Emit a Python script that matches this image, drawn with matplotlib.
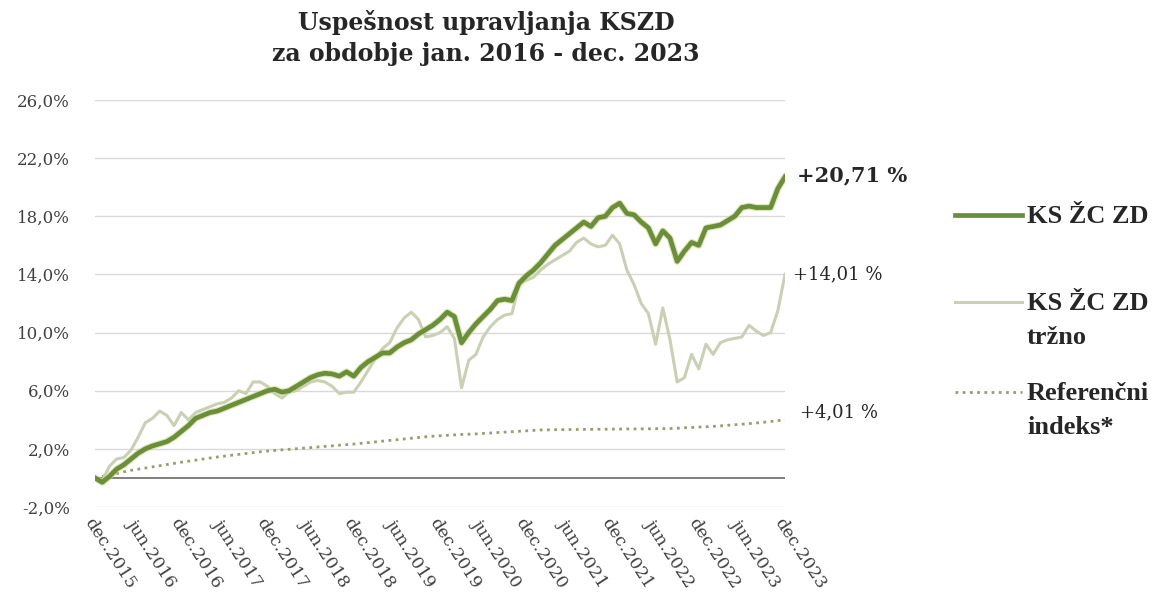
import matplotlib
matplotlib.use("Agg")
import matplotlib.pyplot as plt
from matplotlib.lines import Line2D
import numpy as np

# ---- data (monthly, dec.2015 .. dec.2023) ----
ks_zc_zd = [0.0, -0.3, 0.1, 0.6, 0.9, 1.3, 1.7, 2.0, 2.2, 2.35, 2.5, 2.8, 3.2, 3.6, 4.1, 4.3,
            4.5, 4.6, 4.8, 5.0, 5.2, 5.4, 5.6, 5.8, 6.0, 6.1, 5.9, 6.0, 6.3, 6.6, 6.9, 7.1,
            7.2, 7.15, 7.0, 7.3, 7.0, 7.6, 8.0, 8.3, 8.6, 8.6, 9.0, 9.3, 9.5, 9.9, 10.2, 10.5,
            10.9, 11.4, 11.1, 9.3, 10.0, 10.6, 11.1, 11.6, 12.2, 12.3, 12.2, 13.4, 13.9, 14.3,
            14.8, 15.4, 16.0, 16.4, 16.8, 17.2, 17.6, 17.3, 17.9, 18.0, 18.6, 18.9, 18.2, 18.1,
            17.6, 17.2, 16.1, 17.0, 16.5, 14.9, 15.6, 16.2, 16.0, 17.2, 17.3, 17.4, 17.7, 18.0,
            18.6, 18.7, 18.6, 18.6, 18.6, 19.9, 20.71]
ks_zc_zd_trzno = [0.0, -0.2, 0.8, 1.3, 1.4, 1.9, 2.8, 3.8, 4.1, 4.6, 4.3, 3.6, 4.5, 4.0, 4.5, 4.7,
                  4.9, 5.1, 5.2, 5.5, 6.0, 5.8, 6.6, 6.6, 6.3, 5.8, 5.5, 5.9, 6.0, 6.3, 6.6, 6.7,
                  6.6, 6.3, 5.8, 5.9, 5.9, 6.6, 7.4, 8.2, 8.9, 9.3, 10.3, 11.0, 11.4, 10.9, 9.7, 9.8,
                  10.0, 10.4, 9.6, 6.2, 8.1, 8.5, 9.7, 10.4, 10.9, 11.2, 11.3, 13.3, 13.6, 13.8,
                  14.3, 14.7, 15.0, 15.3, 15.6, 16.2, 16.5, 16.1, 15.9, 16.0, 16.7, 16.1, 14.3, 13.3,
                  12.0, 11.3, 9.2, 11.7, 9.5, 6.6, 6.9, 8.5, 7.5, 9.2, 8.5, 9.3, 9.5, 9.6,
                  9.7, 10.5, 10.1, 9.8, 10.0, 11.5, 14.01]
referencni_indeks = [0.0, 0.1, 0.2, 0.3, 0.42, 0.52, 0.6, 0.68, 0.76, 0.84, 0.92, 1.0, 1.08, 1.15,
                     1.22, 1.3, 1.37, 1.44, 1.5, 1.56, 1.62, 1.68, 1.74, 1.8, 1.85, 1.89, 1.93, 1.97,
                     2.01, 2.05, 2.09, 2.13, 2.17, 2.21, 2.25, 2.29, 2.33, 2.38, 2.43, 2.48, 2.53, 2.58,
                     2.63, 2.68, 2.73, 2.78, 2.83, 2.87, 2.9, 2.93, 2.96, 2.99, 3.01, 3.03, 3.06, 3.09,
                     3.12, 3.15, 3.18, 3.21, 3.24, 3.27, 3.3, 3.31, 3.32, 3.32, 3.33, 3.33, 3.34, 3.34,
                     3.35, 3.35, 3.36, 3.36, 3.37, 3.37, 3.38, 3.38, 3.39, 3.39, 3.4, 3.42, 3.45, 3.47,
                     3.5, 3.52, 3.55, 3.58, 3.62, 3.66, 3.7, 3.74, 3.78, 3.83, 3.88, 3.94, 4.01]
tick_labels = ["dec.2015", "jun.2016", "dec.2016", "jun.2017", "dec.2017", "jun.2018",
               "dec.2018", "jun.2019", "dec.2019", "jun.2020", "dec.2020", "jun.2021",
               "dec.2021", "jun.2022", "dec.2022", "jun.2023", "dec.2023"]
y_ticks = [-2, 2, 6, 10, 14, 18, 22, 26]
end_labels = ["+20,71 %", "+14,01 %", "+4,01 %"]
legend_labels = ["KS ŽC ZD", "KS ŽC ZD\ntržno", "Referenčni\nindeks*"]
title = "Uspešnost upravljanja KSZD\nza obdobje jan. 2016 - dec. 2023"

C_MAIN = "#6b8e3a"
C_MKT = "#c9d0b4"
C_REF = "#9c9c6e"
FONT = "DejaVu Serif"
LEG_FONT = "Liberation Serif"

plt.rcParams["font.family"] = [FONT]

W, H = 1159, 600
fig = plt.figure(figsize=(W / 100, H / 100), dpi=100)
ax = fig.add_axes([95 / W, 1 - 507 / H, (785 - 95) / W, (507 - 100) / H])

x = np.arange(len(ks_zc_zd))
ax.plot(x, referencni_indeks, color=C_REF, lw=2.0, ls=(0, (1, 1.6)), zorder=3)
ax.plot(x, ks_zc_zd_trzno, color=C_MKT, lw=2.2, zorder=4)
ax.plot(x, ks_zc_zd, color="#c8d88a", lw=5.0, zorder=5, alpha=0.6)
ax.plot(x, ks_zc_zd, color=C_MAIN, lw=3.4, zorder=6)

ax.set_xlim(0, len(x) - 1)
ax.set_ylim(-2, 26)
ax.set_yticks(y_ticks)
ax.set_yticklabels([f"{v:.1f}%".replace(".", ",") for v in y_ticks],
                   fontsize=12, color="#404040")
ax.grid(axis="y", color="#d9d9d9", lw=1.0, zorder=0)
ax.axhline(0, color="#7f7f7f", lw=1.4, zorder=2)
for s in ax.spines.values():
    s.set_visible(False)
ax.tick_params(length=0, pad=18)
ax.tick_params(axis="x", pad=6)

ax.set_xticks(x[::6])
ax.set_xticklabels(tick_labels, rotation=-57, ha="left", va="top",
                   rotation_mode="anchor", fontsize=12.5, color="#404040")

# end labels
fig.text(797 / W, 1 - 175 / H, end_labels[0], fontsize=15, fontweight="bold",
         color="#262626", va="center", ha="left")
fig.text(793 / W, 1 - 274 / H, end_labels[1], fontsize=13,
         color="#262626", va="center", ha="left")
fig.text(800 / W, 1 - 412 / H, end_labels[2], fontsize=13,
         color="#262626", va="center", ha="left")

# legend
leg_items = [(215, dict(color=C_MAIN, lw=3.4, ls="-")),
             (302, dict(color=C_MKT, lw=2.2, ls="-")),
             (392, dict(color=C_REF, lw=2.0, ls=(0, (1, 1.6))))]
for (yy, style), lab in zip(leg_items, legend_labels):
    fig.add_artist(Line2D([955 / W, 1022 / W], [1 - yy / H, 1 - yy / H],
                          transform=fig.transFigure, **style))
    for k, line in enumerate(lab.split("\n")):
        fig.text(1027 / W, 1 - (yy + 8 + 34 * k) / H, line, fontsize=19,
                 fontweight="bold", family=LEG_FONT,
                 color="#262626", va="baseline", ha="left")

fig.text(486 / W, 1 - 10 / H, title, fontsize=17, fontweight="bold",
         color="#262626", ha="center", va="top", linespacing=1.38)

fig.savefig("out.png", dpi=100)
